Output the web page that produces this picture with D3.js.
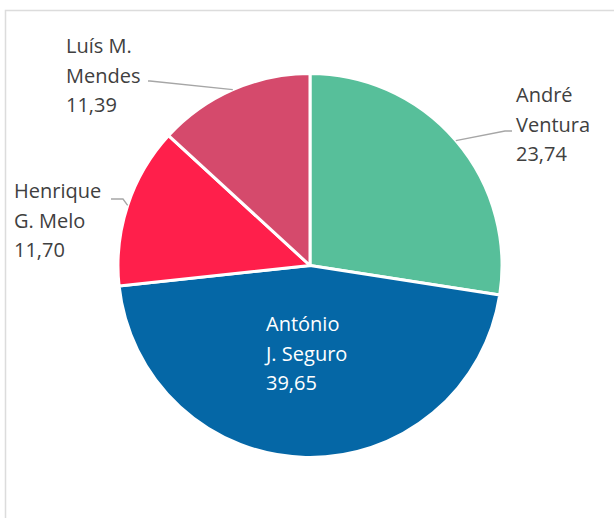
<!DOCTYPE html>
<html>
<head>
<meta charset="utf-8">
<script src="https://cdn.jsdelivr.net/npm/d3@7"></script>
<style>
  html, body { margin: 0; padding: 0; background: #fff; }
  svg { display: block; }
  .lbl { font-family: "Open Sans", sans-serif; font-size: 20px; }
</style>
</head>
<body>
<div id="chart"></div>
<script>
// candidates, first-round vote share (%)
const names = [["André", "Ventura"], ["António", "J. Seguro"], ["Henrique", "G. Melo"], ["Luís M.", "Mendes"]];
const values = [23.74, 39.65, 11.70, 11.39];
const colors = ["#57bf9a", "#0567a6", "#ff1f4b", "#d54a6c"];

const width = 614, height = 518;
const cx = 310, cy = 265.5, radius = 192;
const lineH = 29.5;

// where each label block sits (text anchor point) and where its leader bends
const labelLayout = [
  { x: 516, y: 102, anchor: "start", inside: false, bend: [505, 131], end: [512, 131] },
  { x: 266, y: 331, anchor: "start", inside: true },
  { x: 14, y: 198, anchor: "start", inside: false, bend: [123, 199], end: [111, 199] },
  { x: 66, y: 53, anchor: "start", inside: false, bend: [150, 81], end: [148, 81] }
];

const fmt = v => d3.format(".2f")(v).replace(".", ",");

const svg = d3.select("#chart").append("svg")
  .attr("width", width)
  .attr("height", height);

// chart frame
svg.append("rect")
  .attr("x", 5.5).attr("y", 10.5)
  .attr("width", 700).attr("height", 600)
  .attr("fill", "none")
  .attr("stroke", "#dcdcdc")
  .attr("stroke-width", 1.5);

const pie = d3.pie().sort(null).value(d => d);
const arcs = pie(values);

const arc = d3.arc().innerRadius(0).outerRadius(radius);
const edge = d3.arc().innerRadius(radius).outerRadius(radius);

const g = svg.append("g").attr("transform", `translate(${cx},${cy})`);

g.selectAll("path.slice")
  .data(arcs)
  .join("path")
  .attr("class", "slice")
  .attr("d", arc)
  .attr("fill", (d, i) => colors[i])
  .attr("stroke", "#fff")
  .attr("stroke-width", 3)
  .attr("stroke-linejoin", "round");

// leader lines for outside labels
arcs.forEach((d, i) => {
  const L = labelLayout[i];
  if (L.inside) return;
  const p = edge.centroid(d);
  const pts = [[p[0] + cx, p[1] + cy], L.bend, L.end];
  svg.append("path")
    .attr("d", d3.line()(pts))
    .attr("fill", "none")
    .attr("stroke", "#a6a6a6")
    .attr("stroke-width", 1.3);
});

// labels
arcs.forEach((d, i) => {
  const L = labelLayout[i];
  const lines = names[i].concat(fmt(values[i]));
  const t = svg.append("text")
    .attr("class", "lbl")
    .attr("text-anchor", L.anchor)
    .attr("fill", L.inside ? "#ffffff" : "#404040");
  lines.forEach((s, k) => {
    t.append("tspan")
      .attr("x", L.x)
      .attr("y", L.y + k * lineH)
      .text(s);
  });
});
</script>
</body>
</html>
